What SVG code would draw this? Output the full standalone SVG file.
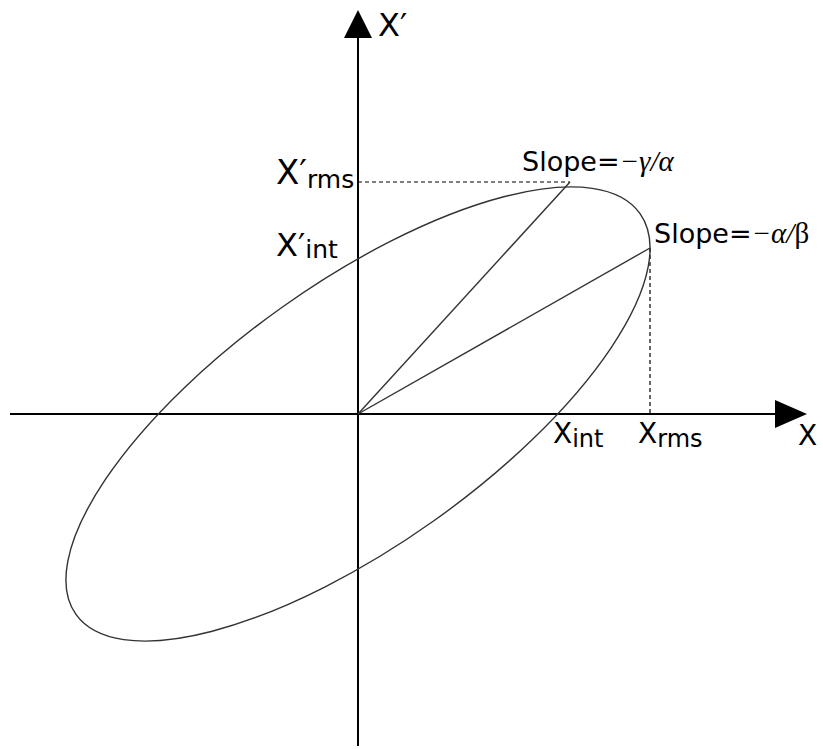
<svg xmlns="http://www.w3.org/2000/svg" width="823" height="749" viewBox="0 0 823 749">
<style>
.ax{stroke:#000;stroke-width:2;fill:none}
.ln{stroke:#333;stroke-width:1.4;fill:none}
.dash{stroke:#000;stroke-width:1.2;stroke-dasharray:4 3;fill:none}
.t{font-family:"DejaVu Sans",Verdana,sans-serif;fill:#000}
.g{font-family:"Liberation Serif","Times New Roman",serif;font-style:italic}
</style>
<rect width="823" height="749" fill="#fff"/>
<g id="connectors">
<line class="ax" x1="10" y1="414" x2="780" y2="414"/>
<polygon points="775,400 807,414 775,428" fill="#000"/>
<line class="ax" x1="358" y1="746" x2="358" y2="36"/>
<polygon points="344,38 358,10 372,38" fill="#000"/>
<line class="dash" x1="358" y1="182" x2="570" y2="182"/>
<line class="dash" x1="650" y1="248" x2="650" y2="414"/>
<line class="ln" x1="358" y1="414" x2="570" y2="182"/>
<line class="ln" x1="358" y1="414" x2="650" y2="248"/>
</g>
<g id="ellipse">
<ellipse class="ln" cx="358" cy="414" rx="346" ry="131" transform="rotate(-35.4 358 414)"/>
</g>
<g id="labels">
<text class="t" x="378" y="36" font-size="32">X′</text>
<text class="t" x="276" y="184" font-size="34">X′<tspan font-size="25" dy="4">rms</tspan></text>
<text class="t" x="276" y="256" font-size="32">X′<tspan font-size="25" dy="2">int</tspan></text>
<text class="t" x="553" y="443" font-size="28">X<tspan font-size="24" dy="4">int</tspan></text>
<text class="t" x="638" y="443" font-size="28">X<tspan font-size="24" dy="4">rms</tspan></text>
<text class="t" x="798" y="445" font-size="28">X</text>
<text class="t" x="522" y="171" font-size="27">Slope=<tspan class="g" font-size="29">−γ/α</tspan></text>
<text class="t" x="654" y="243" font-size="27">Slope=<tspan class="g" font-size="29">−α/</tspan><tspan font-family="Liberation Serif,serif" font-size="29">β</tspan></text>
</g>
</svg>
